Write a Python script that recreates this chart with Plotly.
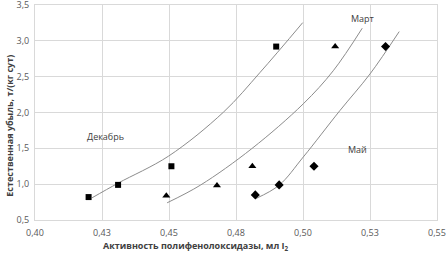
import plotly.graph_objects as go

# Data points
dec_x = [0.4200, 0.4310, 0.4509, 0.4900]
dec_y = [0.82, 0.99, 1.25, 2.92]
mar_x = [0.4490, 0.4679, 0.4811, 0.5120]
mar_y = [0.84, 0.98, 1.25, 2.92]
may_x = [0.4822, 0.4911, 0.5041, 0.5308]
may_y = [0.85, 0.99, 1.25, 2.92]

# Trend curves
dec_curve_x = [0.4213, 0.4310, 0.4499, 0.4703, 0.4840, 0.4999]
dec_curve_y = [0.810, 1.014, 1.393, 2.004, 2.560, 3.254]
mar_curve_x = [0.4493, 0.4617, 0.4809, 0.5001, 0.5113, 0.5221]
mar_curve_y = [0.740, 0.986, 1.496, 2.121, 2.583, 3.176]
may_curve_x = [0.4825, 0.4911, 0.5001, 0.5138, 0.5250, 0.5359]
may_curve_y = [0.801, 0.986, 1.379, 2.028, 2.538, 3.129]

x_ticks = [0.40, 0.425, 0.45, 0.475, 0.50, 0.525, 0.55]
x_ticktext = ["0,40", "0,43", "0,45", "0,48", "0,50", "0,53", "0,55"]
y_ticks = [0.5, 1.0, 1.5, 2.0, 2.5, 3.0, 3.5]
y_ticktext = ["0,5", "1,0", "1,5", "2,0", "2,5", "3,0", "3,5"]

line_color = "#8c8c8c"
fig = go.Figure()
for cx, cy in [(dec_curve_x, dec_curve_y), (mar_curve_x, mar_curve_y), (may_curve_x, may_curve_y)]:
    fig.add_trace(go.Scatter(x=cx, y=cy, mode="lines", line=dict(color=line_color, width=1, shape="spline"),
                             showlegend=False, hoverinfo="skip"))

fig.add_trace(go.Scatter(x=dec_x, y=dec_y, mode="markers", marker=dict(symbol="square", size=6, color="black"),
                         showlegend=False))
fig.add_trace(go.Scatter(x=mar_x, y=mar_y, mode="markers", marker=dict(symbol="triangle-up", size=7, color="black"),
                         showlegend=False))
fig.add_trace(go.Scatter(x=may_x, y=may_y, mode="markers", marker=dict(symbol="diamond", size=7, color="black"),
                         showlegend=False))

grid = "#d9d9d9"
tickfont = dict(family="Open Sans, Liberation Sans, sans-serif", size=9, color="#595959")
fig.update_xaxes(range=[0.40, 0.55], tickvals=x_ticks, ticktext=x_ticktext, showgrid=True, gridcolor=grid,
                 gridwidth=1, showline=True, linecolor=grid, mirror=True, zeroline=False, tickfont=tickfont,
                 ticks="", automargin=False, ticklabelstandoff=4, ticklabeloverflow="allow")
fig.update_yaxes(range=[0.5, 3.5], tickvals=y_ticks, ticktext=y_ticktext, showgrid=True, gridcolor=grid,
                 gridwidth=1, showline=True, linecolor=grid, mirror=True, zeroline=False, tickfont=tickfont,
                 ticks="", automargin=False, ticklabelstandoff=3, ticklabeloverflow="allow")

labfont = dict(family="Open Sans, Liberation Sans, sans-serif", size=9, color="#404040")
fig.add_annotation(x=0.4262, y=1.67, text="Декабрь", showarrow=False, font=labfont)
fig.add_annotation(x=0.5222, y=3.31, text="Март", showarrow=False, font=labfont)
fig.add_annotation(x=0.5205, y=1.48, text="Май", showarrow=False, font=labfont)

titlefont = dict(family="Open Sans, Liberation Sans, sans-serif", size=9, color="#404040")
fig.add_annotation(xref="paper", yref="paper", x=0.40, y=-0.08, xanchor="center", yanchor="top",
                   text="<b>Активность полифенолоксидазы, мл I<sub>2</sub></b>", showarrow=False, font=titlefont)
fig.add_annotation(xref="paper", yref="paper", x=-0.064, y=0.44, xanchor="center", yanchor="middle",
                   text="<b>Естественная убыль, т/(кг сут)</b>", textangle=-90, showarrow=False, font=titlefont)

fig.update_layout(width=447, height=255, margin=dict(l=35, r=10, t=5, b=35, autoexpand=False),
                  paper_bgcolor="white", plot_bgcolor="white")
fig.write_html("out.html", config={"displayModeBar": False},
               post_script="document.body.style.margin='0px';")
